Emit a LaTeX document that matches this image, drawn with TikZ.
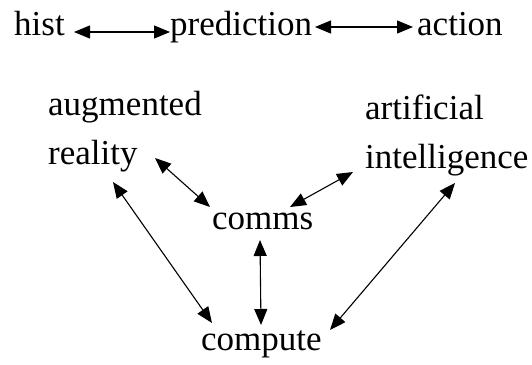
\documentclass[tikz,border=0pt]{standalone}
\usepackage{fontspec}
\setmainfont{Liberation Serif}
\usepackage{tikz}
\usetikzlibrary{arrows.meta, calc}

\tikzset{
  wort/.style={inner sep=0pt, anchor=base west, font=\fontsize{35}{40}\selectfont},
  pfeil/.style={{Triangle[length=16pt,width=13pt]}-{Triangle[length=16pt,width=13pt]}, line width=1.1pt}
}

\begin{document}
\begin{tikzpicture}[x=1pt, y=-1pt]
      \useasboundingbox (0,0) rectangle (532,364);

      % obere Zeile
      \node[wort] (hist) at (14,35) {hist};
      \node[wort] (pred) at (170,35) {prediction};
      \node[wort] (act) at (417,35) {action};

      % Dreieck unten
      \node[wort] (aug) at (48,115) {augmented};
      \node[wort] (real) at (48,164) {reality};
      \node[wort] (artf) at (365,119) {artificial};
      \node[wort] (intel) at (365,168) {intelligence};
      \node[wort] (comms) at (212,229) {comms};
      \node[wort] (comp) at (201,350) {compute};

      % Pfeile
      \draw[pfeil] ($(hist.base west)+(60,-3)$) -- ($(pred.base west)+(0,-3)$);
      \draw[pfeil] ($(pred.base west)+(145,-8)$) -- ($(act.base west)+(-4,-8)$);
      \draw[pfeil] ($(real.base west)+(107,-6)$) -- ($(comms.base west)+(-2,-22)$);
      \draw[pfeil] ($(real.base west)+(65,18)$) -- ($(comp.base west)+(11,-27)$);
      \draw[pfeil] ($(comms.base west)+(48,11)$) -- ($(comp.base west)+(60,-25)$);
      \draw[pfeil] ($(comms.base west)+(78,-22)$) -- ($(intel.base west)+(-12,4)$);
      \draw[pfeil] ($(comp.base west)+(129,-20)$) -- ($(intel.base west)+(90,15)$);
    \end{tikzpicture}
\end{document}
